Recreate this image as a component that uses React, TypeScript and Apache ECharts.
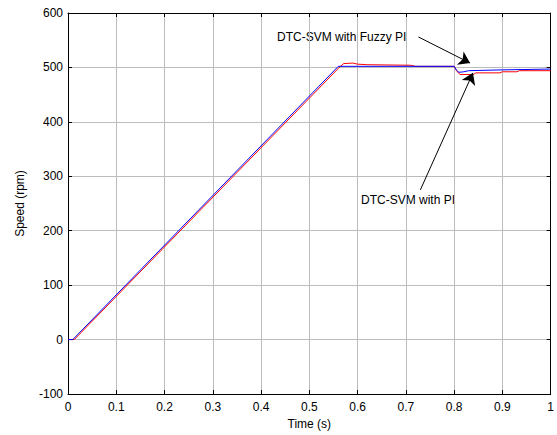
import React, { useEffect, useRef } from "react";
import * as echarts from "echarts";

const FONT = "'Liberation Sans', Arial, sans-serif";

// Fuzzy PI (blue) speed response: [time s, speed rpm]
const fuzzyPI: [number, number][] = [
  [0, 0], [0.01, 0], [0.56, 502], [0.8, 502], [0.805, 495], [0.81, 491],
  [0.82, 492], [0.83, 494], [0.9, 495.5], [1.0, 497],
];

// Conventional PI (red) speed response
const convPI: [number, number][] = [
  [0, 0], [0.013, 0], [0.562, 500], [0.571, 507], [0.59, 508], [0.6, 506],
  [0.62, 505], [0.71, 504], [0.72, 502], [0.8, 502], [0.805, 494], [0.812, 487],
  [0.84, 487], [0.845, 490], [0.895, 490], [0.9, 492], [0.93, 492], [0.935, 494],
  [1.0, 494],
];

// annotation arrows [from, to] in data coords
const arrowFuzzy: [number, number][] = [[0.726, 556], [0.833, 508]];
const arrowPI: [number, number][] = [[0.73, 275], [0.839, 490]];

const labelFuzzy = "DTC-SVM with Fuzzy PI";
const labelPI = "DTC-SVM with PI";

export default function App() {
  const ref = useRef<HTMLDivElement>(null);
  useEffect(() => {
    if (!ref.current) return;
    const chart = echarts.init(ref.current, null, { renderer: "svg" });
    const txt = { fontFamily: FONT, fontSize: 12, color: "#000" };
    chart.setOption({
      animation: false,
      backgroundColor: "#fff",
      grid: { left: 68, right: 4, top: 13, bottom: 41, containLabel: false },
      xAxis: [
        {
          type: "value", min: 0, max: 1, interval: 0.1, position: "bottom",
          name: "Time (s)", nameLocation: "middle", nameGap: 22,
          nameTextStyle: { ...txt },
          axisLine: { show: true, onZero: false, lineStyle: { color: "#000", width: 1 } },
          axisTick: { show: true, inside: true, length: 4, lineStyle: { color: "#000" } },
          axisLabel: { ...txt, margin: 7 },
          splitLine: { show: true, lineStyle: { color: "#bcbcbc", width: 1 } },
        },
        {
          type: "value", min: 0, max: 1, interval: 0.1, position: "top",
          axisLine: { show: true, onZero: false, lineStyle: { color: "#000", width: 1 } },
          axisTick: { show: true, inside: true, length: 4, lineStyle: { color: "#000" } },
          axisLabel: { show: false },
          splitLine: { show: false },
        },
      ],
      yAxis: [
        {
          type: "value", min: -100, max: 600, interval: 100, position: "left",
          name: "Speed (rpm)", nameLocation: "middle", nameGap: 42,
          nameTextStyle: { ...txt },
          axisLine: { show: true, onZero: false, lineStyle: { color: "#000", width: 1 } },
          axisTick: { show: true, inside: true, length: 4, lineStyle: { color: "#000" } },
          axisLabel: { ...txt, margin: 5 },
          splitLine: { show: true, lineStyle: { color: "#bcbcbc", width: 1 } },
        },
        {
          type: "value", min: -100, max: 600, interval: 100, position: "right",
          axisLine: { show: true, onZero: false, lineStyle: { color: "#000", width: 1 } },
          axisTick: { show: true, inside: true, length: 4, lineStyle: { color: "#000" } },
          axisLabel: { show: false },
          splitLine: { show: false },
        },
      ],
      series: [
        {
          type: "line", name: "PI", data: convPI, showSymbol: false, symbol: "none",
          lineStyle: { color: "#ff0000", width: 1 }, z: 2,
        },
        {
          type: "line", name: "Fuzzy PI", data: fuzzyPI, showSymbol: false, symbol: "none",
          lineStyle: { color: "#0000ff", width: 1 }, z: 3,
          markLine: {
            silent: true, animation: false,
            symbol: ["none", "arrow"], symbolSize: 11,
            label: { show: false },
            itemStyle: { color: "#000" },
            lineStyle: { color: "#000", width: 1, type: "solid" },
            data: [
              [{ coord: arrowFuzzy[0] }, { coord: arrowFuzzy[1] }],
              [{ coord: arrowPI[0] }, { coord: arrowPI[1] }],
            ],
          },
        },
      ],
      graphic: [
        {
          type: "text", x: 277, y: 37,
          style: { text: labelFuzzy, font: `12px ${FONT}`, fill: "#000", verticalAlign: "middle" },
        },
        {
          type: "text", x: 361, y: 200,
          style: { text: labelPI, font: `12px ${FONT}`, fill: "#000", verticalAlign: "middle" },
        },
      ],
    });
    return () => chart.dispose();
  }, []);
  return <div ref={ref} style={{ width: 557, height: 435, position: "absolute", left: 0, top: 0 }} />;
}
